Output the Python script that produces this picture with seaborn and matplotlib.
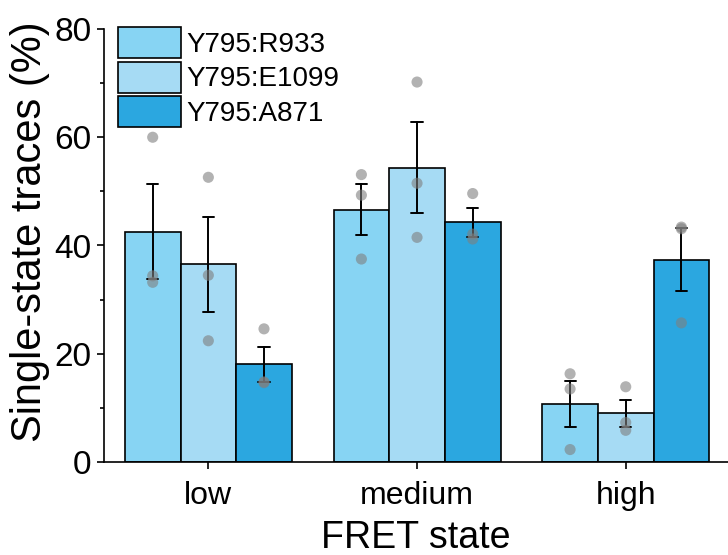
import matplotlib
matplotlib.use("Agg")
import matplotlib.pyplot as plt
import seaborn as sns
import pandas as pd
from matplotlib.ticker import MultipleLocator

# ---- data ----
states = ["low", "medium", "high"]
constructs = ["Y795:R933", "Y795:E1099", "Y795:A871"]
r933 = {"low": [60.0, 34.4, 33.2], "medium": [53.1, 49.3, 37.5], "high": [16.3, 13.5, 2.3]}
e1099 = {"low": [52.6, 34.5, 22.4], "medium": [70.2, 51.5, 41.5], "high": [13.9, 7.3, 5.85]}
a871 = {"low": [24.6, 14.8, 14.65], "medium": [49.6, 42.1, 41.2], "high": [43.4, 25.7, 43.1]}
colors = ["#87d4f3", "#a6dbf4", "#2ba7e0"]

rows = []
for name, d in zip(constructs, [r933, e1099, a871]):
    for s in states:
        for v in d[s]:
            rows.append({"state": s, "construct": name, "value": v})
df = pd.DataFrame(rows)

sns.set_style("ticks")
plt.rcParams["font.family"] = ["Liberation Sans", "DejaVu Sans"]
plt.rcParams["text.color"] = "black"
plt.rcParams["axes.labelcolor"] = "black"
plt.rcParams["xtick.color"] = "black"
plt.rcParams["ytick.color"] = "black"

fig = plt.figure(figsize=(7.28, 5.55), dpi=100)
ax = fig.add_axes([104 / 728, 1 - 462 / 555, 624 / 728, 433 / 555])

sns.barplot(data=df, x="state", y="value", hue="construct", order=states,
            hue_order=constructs, palette=colors, errorbar="se", capsize=0.16,
            err_kws={"color": "black", "linewidth": 1.4}, edgecolor="black",
            linewidth=1.2, saturation=1, ax=ax)
sns.stripplot(data=df, x="state", y="value", hue="construct", order=states,
              hue_order=constructs, palette=["#7f7f7f"] * 3, dodge=True,
              jitter=False, alpha=0.6, size=8, linewidth=0, legend=False, ax=ax)

ax.set_xlim(-0.5, 2.49)
ax.set_ylim(0, 80)
ax.yaxis.set_major_locator(MultipleLocator(20))
ax.yaxis.set_minor_locator(MultipleLocator(10))
for side in ["top", "right"]:
    ax.spines[side].set_visible(False)
for side in ["left", "bottom"]:
    ax.spines[side].set_linewidth(1.2)
    ax.spines[side].set_color("black")
ax.tick_params(axis="both", which="major", direction="out", length=5, width=1.2,
               color="black", labelcolor="black", pad=4)
ax.tick_params(axis="y", which="minor", direction="out", length=3, width=1.2, color="black")
ax.tick_params(axis="y", labelsize=24)
ax.tick_params(axis="x", labelsize=23, pad=9)

ax.set_xlabel("FRET state", fontsize=27, labelpad=6, color="black")
ax.set_ylabel("Single-state traces (%)", fontsize=30, labelpad=3, color="black", y=0.531)

handles, labels = ax.get_legend_handles_labels()
leg = ax.legend(handles[:3], labels[:3], loc="upper left",
                bbox_to_anchor=((118 - 104) / 624, (462 - 27) / 433),
                frameon=False, fontsize=20, borderpad=0, borderaxespad=0,
                handlelength=2.27, handleheight=1.34, labelspacing=0.126,
                handletextpad=0.18)
for t in leg.get_texts():
    t.set_color("black")

fig.savefig("out.png", dpi=100)
